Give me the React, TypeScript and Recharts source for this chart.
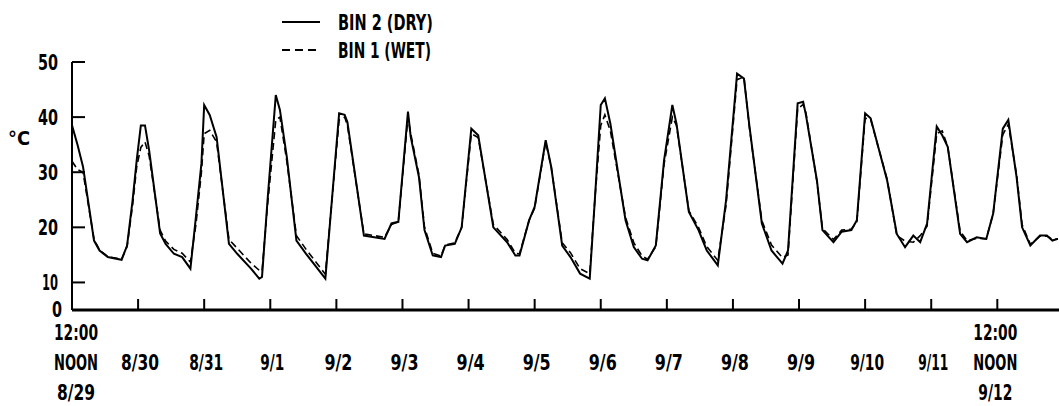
import { LineChart, Line, XAxis, YAxis } from 'recharts'

// hours after 12:00 noon 8/29
const hours = [0, 2, 4, 8, 10, 13, 18, 20, 22, 23.5, 25, 26.5, 28, 32, 34, 37, 40, 43, 45, 47, 48, 50, 52.5, 57, 60, 65, 68, 69, 71, 74, 75.5, 78, 81.5, 85, 92, 97, 99, 100, 106, 113.5, 116, 118.5, 122, 123, 126, 128, 131, 134, 135.5, 139, 141.5, 145, 147.5, 153, 158, 161, 162.5, 166, 168, 172, 174, 178, 181, 184.5, 188, 190, 192, 193.5, 195.5, 201, 204, 207, 209, 212, 215, 218, 219.5, 224, 227.5, 230.5, 234.5, 237.5, 241.5, 244, 246, 250.5, 254, 258, 260, 263.5, 265.5, 266.5, 270.5, 272.5, 276.5, 279.5, 283, 285, 288, 290, 296, 299.5, 302.5, 305.5, 308, 310.5, 314, 316, 318, 322.5, 325, 328.5, 332, 334.5, 338, 340, 343, 345, 348, 351.5, 354, 356, 358]

// BIN 2 (DRY), °C
const dry = [38.5, 35, 31, 17.6, 15.8, 14.6, 14.1, 16.7, 24.9, 32.2, 38.5, 38.5, 34, 18.9, 17, 15.2, 14.6, 12.5, 21.9, 31.6, 42.2, 40.4, 36.4, 17, 15.2, 12.5, 10.7, 11, 24.9, 44, 41.3, 32.8, 17.6, 15.2, 10.7, 40.7, 40.4, 39.1, 18.5, 17.9, 20.7, 21, 41, 36.4, 29.1, 19.5, 14.9, 14.6, 16.7, 17, 20, 37.9, 36.7, 20, 17.3, 14.9, 14.9, 21.3, 23.7, 35.8, 31, 16.7, 14.6, 11.6, 10.7, 26.1, 42.2, 43.4, 38.8, 21.3, 16.4, 14.3, 14, 16.7, 32.2, 42.2, 38.8, 22.8, 19.5, 15.8, 13.1, 24.9, 47.9, 47, 38.3, 20.7, 15.8, 13.4, 15.8, 42.5, 42.8, 40.4, 28.5, 19.5, 17.3, 19.2, 19.5, 21.3, 40.7, 39.8, 28.5, 18.8, 16.4, 18.5, 17.3, 20.7, 38.3, 36.7, 34.6, 18.8, 17.3, 18.2, 17.9, 22.5, 37.9, 39.5, 29.1, 20, 16.7, 18.5, 18.5, 17.6, 17.9]

// BIN 1 (WET), °C
const wet = [32, 30.5, 30, 17.8, 15.9, 14.7, 14.2, 16.5, 24, 31, 34.5, 35.5, 33, 19.5, 17.5, 16, 15.3, 13.7, 20.5, 30, 37, 37.6, 35.5, 17.8, 16.2, 13.5, 12.2, 12, 24, 39.5, 40, 32, 18.5, 16, 11.5, 39.5, 40, 38.5, 18.8, 18.2, 20.5, 21, 40, 37, 29.5, 20, 15.3, 14.8, 16.8, 17.2, 20, 37, 36.3, 20.5, 17.8, 15.3, 15.2, 21.3, 23.5, 35.5, 31, 17.2, 15.4, 12.5, 11.6, 26, 38.5, 40.4, 37.5, 21.8, 17.2, 14.8, 14.2, 16.5, 31.5, 40, 38.5, 23, 20, 16.5, 14, 24, 46.8, 47.3, 38, 21.2, 16.8, 14.5, 15, 41.5, 42.3, 40.8, 28.3, 19.8, 17.8, 19.5, 19.7, 21, 39.8, 39.6, 28.7, 18.5, 17.5, 17.3, 18.5, 20.2, 37, 37.5, 34.6, 19.3, 17.6, 18, 17.9, 22.5, 36.8, 38.7, 29.5, 20.5, 16.9, 18.4, 18.4, 17.8, 17.9]

const dayTicks = [0, 24, 48, 72, 96, 120, 144, 168, 192, 216, 240, 264, 288, 312, 336]
const dayLabels = ['8/29', '8/30', '8/31', '9/1', '9/2', '9/3', '9/4', '9/5', '9/6', '9/7', '9/8', '9/9', '9/10', '9/11', '9/12']

const tempTicks = [5, 10, 20, 30, 40, 50]
const tempLabels = ['0', '10', '20', '30', '40', '50']

const FONT = "'DejaVu Sans Condensed', 'Liberation Sans', sans-serif"

const chartData = hours.map((h, i) => ({ hour: h, dry: dry[i], wet: wet[i] }))

// rough width of the narrow lettering in the original, per character
const charWidth = (c: string) => {
  if (c === '1' || c === 'I') return 6
  if (/[0-9]/.test(c)) return 10
  if (c === '/' || c === ':') return 8
  if (c === ' ' || c === '(' || c === ')') return 6
  if (c === 'W') return 13
  return 11
}
const textWidth = (s: string) => s.split('').reduce((sum, c) => sum + charWidth(c), 0)

const Label = ({ x, y, children, anchor = 'middle', size = 22 }: any) => (
  <text
    x={x}
    y={y}
    textAnchor={anchor}
    fontFamily={FONT}
    fontWeight={700}
    fontSize={size}
    fill="#000"
    textLength={textWidth(children)}
    lengthAdjust="spacingAndGlyphs"
  >
    {children}
  </text>
)

const XTick = ({ x, y, payload }: any) => {
  const i = dayTicks.indexOf(payload.value)
  const label = dayLabels[i]
  const edge = i === 0 || i === dayTicks.length - 1
  const cx = i === 0 ? x + 4 : i === dayTicks.length - 1 ? x - 2 : x + 2
  return (
    <g>
      {i > 0 && <line x1={x} y1={y} x2={x} y2={y - 11} stroke="#000" strokeWidth={2} />}
      {edge ? (
        <>
          <Label x={cx} y={y + 30}>12:00</Label>
          <Label x={cx} y={y + 60}>NOON</Label>
          <Label x={cx} y={y + 90}>{label}</Label>
        </>
      ) : (
        <Label x={cx} y={y + 60}>{label}</Label>
      )}
    </g>
  )
}

const YTick = ({ x, y, payload }: any) => {
  const i = tempTicks.indexOf(payload.value)
  const isZero = i === 0
  return (
    <g>
      {!isZero && <line x1={x} y1={y} x2={x + 13} y2={y} stroke="#000" strokeWidth={2} />}
      <Label x={isZero ? x - 10 : x - 14} y={isZero ? y + 7 : y + 8} anchor="end" size={21}>
        {tempLabels[i]}
      </Label>
    </g>
  )
}

export default function App() {
  return (
    <div style={{ position: 'absolute', left: 0, top: 0, width: 1059, height: 406, background: '#fff' }}>
      <LineChart width={1059} height={406} data={chartData} margin={{ top: 62, right: 0, left: 0, bottom: 0 }}>
        <XAxis
          type="number"
          dataKey="hour"
          domain={[0, 358.4]}
          ticks={dayTicks}
          interval={0}
          allowDataOverflow
          height={96}
          tickLine={false}
          tickSize={0}
          tickMargin={0}
          axisLine={{ stroke: '#000', strokeWidth: 3 }}
          tick={<XTick />}
        />
        <YAxis
          type="number"
          domain={[5, 50]}
          ticks={tempTicks}
          interval={0}
          allowDataOverflow
          width={72}
          tickLine={false}
          tickSize={0}
          tickMargin={0}
          axisLine={{ stroke: '#000', strokeWidth: 2 }}
          tick={<YTick />}
        />
        <Line type="linear" dataKey="wet" stroke="#000" strokeWidth={1.6} strokeDasharray="7 4" dot={false} isAnimationActive={false} />
        <Line type="linear" dataKey="dry" stroke="#000" strokeWidth={2} dot={false} isAnimationActive={false} />
      </LineChart>
      <svg width={1059} height={406} style={{ position: 'absolute', left: 0, top: 0, pointerEvents: 'none' }}>
        <Label x={8} y={145} anchor="start" size={20}>°C</Label>
        <line x1={282} y1={22} x2={320} y2={22} stroke="#000" strokeWidth={2} />
        <Label x={338} y={30} anchor="start" size={21}>BIN 2 (DRY)</Label>
        <line x1={282} y1={50} x2={320} y2={50} stroke="#000" strokeWidth={2} strokeDasharray="8 5" />
        <Label x={338} y={58} anchor="start" size={21}>BIN 1 (WET)</Label>
      </svg>
    </div>
  )
}
